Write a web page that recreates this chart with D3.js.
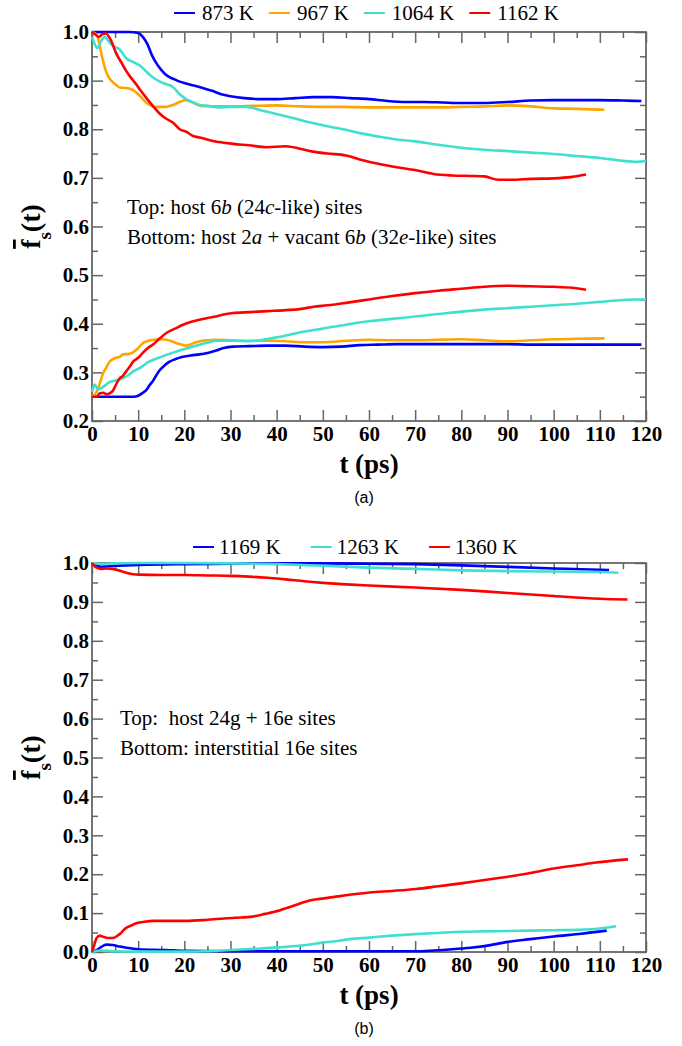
<!DOCTYPE html>
<html>
<head>
<meta charset="utf-8">
<script src="https://cdn.jsdelivr.net/npm/d3@7"></script>
<style>
  body { margin: 0; background: #fff; }
  text { white-space: pre; }
</style>
</head>
<body>
<div id="chart"></div>
<script>
// ---- panel (a) data: [t (ps), f_s(t)] ----
const a873Top = [[0,1.0],[2,1.0],[5,1.0],[8,1.0],[10,0.998],[11,0.99],[12,0.975],[13,0.952],[14,0.935],[15,0.922],[16,0.912],[17,0.906],[18,0.902],[19,0.898],[20,0.895],[22,0.89],[24,0.885],[26,0.879],[28,0.872],[30,0.868],[33,0.864],[36,0.862],[40,0.862],[44,0.864],[48,0.866],[52,0.866],[56,0.864],[60,0.862],[64,0.858],[68,0.856],[72,0.856],[76,0.855],[80,0.854],[85,0.854],[90,0.856],[95,0.859],[100,0.86],[105,0.86],[110,0.86],[115,0.859],[119,0.858]];
const a967Top = [[0,1.0],[1,0.995],[1.7,0.97],[2.4,0.94],[3.2,0.915],[4,0.902],[5,0.893],[6,0.886],[7.4,0.885],[8.8,0.881],[10,0.872],[11,0.862],[12,0.853],[13,0.848],[14,0.846],[16,0.846],[17.5,0.85],[19,0.856],[20.4,0.86],[22,0.854],[23.5,0.848],[26,0.847],[30,0.847],[35,0.848],[40,0.849],[45,0.847],[50,0.846],[55,0.846],[60,0.845],[65,0.845],[70,0.845],[75,0.845],[80,0.846],[85,0.847],[90,0.849],[95,0.847],[100,0.843],[105,0.842],[111,0.84]];
const a1064Top = [[0,0.99],[0.6,0.975],[1.2,0.967],[2,0.982],[2.8,0.99],[3.5,0.982],[4.5,0.972],[6,0.964],[7.4,0.946],[9,0.938],[10.5,0.93],[11.8,0.918],[13,0.908],[14.7,0.898],[16,0.893],[17.5,0.887],[19,0.872],[20.4,0.862],[22,0.855],[23.3,0.85],[25,0.848],[27.6,0.845],[30,0.846],[33.4,0.846],[37,0.838],[40.6,0.83],[44,0.822],[47.8,0.813],[51,0.806],[55,0.799],[58,0.792],[62,0.785],[66,0.779],[70,0.775],[75,0.768],[80,0.762],[85,0.758],[90,0.755],[95,0.752],[100,0.749],[105,0.745],[110,0.741],[115,0.735],[118,0.733],[120,0.735]];
const a1162Top = [[0,1.0],[0.7,0.995],[1.5,0.99],[2.2,0.995],[3,0.997],[4,0.985],[5.3,0.955],[6.5,0.935],[7.4,0.92],[8.2,0.909],[9.6,0.892],[10.5,0.88],[11.8,0.864],[13,0.85],[14.7,0.832],[16,0.822],[17.5,0.814],[19,0.8],[20.4,0.795],[21.9,0.786],[23.3,0.783],[26.2,0.776],[30.6,0.77],[34,0.767],[37.8,0.763],[42,0.765],[45,0.76],[47.8,0.754],[51,0.75],[55,0.746],[58,0.738],[62,0.729],[66,0.722],[70,0.716],[74,0.708],[78,0.705],[82,0.704],[85,0.703],[88,0.696],[91,0.696],[95,0.698],[100,0.699],[104,0.702],[107,0.707]];

const a873Bot = [[0,0.25],[3,0.25],[6,0.25],[9,0.25],[10,0.252],[11,0.258],[11.8,0.264],[12.5,0.274],[13.3,0.284],[14,0.295],[14.7,0.305],[15.7,0.314],[16.8,0.322],[18,0.327],[19.7,0.332],[21.5,0.335],[23.3,0.337],[25,0.34],[26.9,0.345],[28.5,0.35],[30.5,0.353],[34,0.354],[38,0.355],[42,0.355],[46,0.353],[50,0.352],[54,0.353],[58,0.356],[62,0.357],[66,0.358],[70,0.358],[75,0.358],[80,0.358],[85,0.358],[90,0.358],[95,0.357],[100,0.357],[110,0.357],[119,0.357]];
const a967Bot = [[0,0.25],[1,0.26],[1.7,0.278],[2.4,0.298],[3.1,0.31],[3.8,0.322],[4.9,0.329],[6,0.332],[6.7,0.337],[8,0.338],[8.9,0.341],[10,0.35],[11,0.36],[12,0.364],[13.3,0.367],[15,0.368],[16.1,0.367],[17.3,0.364],[18.3,0.36],[19.5,0.357],[20.4,0.355],[22,0.36],[23.3,0.364],[25,0.366],[26.9,0.367],[30,0.366],[34,0.365],[38,0.365],[42,0.364],[46,0.362],[50,0.362],[55,0.365],[60,0.367],[65,0.366],[70,0.366],[75,0.367],[80,0.368],[85,0.366],[90,0.364],[95,0.366],[100,0.368],[105,0.369],[111,0.37]];
const a1064Bot = [[0,0.26],[0.6,0.275],[1.3,0.265],[2.4,0.27],[3.8,0.28],[5,0.283],[6.7,0.288],[8,0.295],[8.9,0.302],[10,0.307],[11,0.313],[12,0.32],[13.3,0.326],[14.5,0.33],[16.1,0.336],[18,0.342],[19.7,0.347],[21.5,0.352],[23.3,0.357],[25,0.361],[26.9,0.365],[30.5,0.365],[34.2,0.364],[37,0.367],[40,0.372],[43,0.378],[46,0.384],[50,0.39],[55,0.398],[60,0.405],[65,0.41],[70,0.415],[75,0.42],[80,0.425],[85,0.429],[90,0.432],[95,0.435],[100,0.438],[105,0.441],[110,0.445],[115,0.449],[118,0.45],[120,0.45]];
const a1162Bot = [[0,0.25],[1,0.25],[1.7,0.257],[2.5,0.258],[3.1,0.255],[4,0.258],[4.5,0.262],[5.2,0.275],[6,0.288],[6.7,0.293],[7.4,0.302],[8.2,0.312],[8.9,0.322],[10,0.33],[11,0.34],[12,0.349],[13.3,0.358],[14.7,0.37],[16.1,0.381],[18,0.39],[19.7,0.398],[21.5,0.404],[23.3,0.408],[25,0.412],[26.9,0.415],[28.5,0.419],[30.5,0.422],[34.2,0.424],[38,0.426],[42,0.428],[45,0.43],[48,0.435],[51,0.438],[55,0.443],[60,0.45],[65,0.457],[70,0.463],[75,0.468],[80,0.472],[85,0.476],[90,0.478],[95,0.477],[100,0.476],[104,0.474],[107,0.47]];

// ---- panel (b) data ----
const b1169Top = [[0,1.0],[1,0.993],[2,0.99],[3,0.991],[5,0.993],[10,0.995],[20,0.997],[30,0.998],[40,0.999],[50,0.999],[60,0.998],[70,0.997],[80,0.994],[90,0.99],[100,0.986],[106,0.984],[112,0.982]];
const b1263Top = [[0,1.0],[2,0.998],[5,0.999],[10,1.0],[20,1.0],[30,0.999],[40,0.997],[50,0.993],[60,0.988],[70,0.985],[80,0.981],[90,0.979],[100,0.978],[110,0.977],[114,0.975]];
const b1360Top = [[0,1.0],[0.5,0.993],[1,0.988],[2,0.985],[3.1,0.986],[4.5,0.985],[6,0.98],[7.4,0.975],[9,0.971],[10.3,0.97],[15,0.969],[20,0.969],[25,0.968],[30,0.967],[34,0.965],[38,0.962],[42,0.958],[46,0.953],[50,0.949],[55,0.945],[60,0.942],[70,0.937],[80,0.931],[90,0.923],[100,0.915],[110,0.908],[116,0.906]];
const b1169Bot = [[0,0],[1,0.005],[2,0.013],[3.1,0.019],[4.5,0.018],[6,0.014],[7.4,0.011],[10,0.007],[16,0.005],[20,0.003],[30,0.002],[40,0.002],[50,0.002],[60,0.002],[70,0.002],[74,0.004],[78,0.007],[82,0.011],[86,0.017],[90,0.026],[95,0.033],[100,0.04],[106,0.047],[111.5,0.055]];
const b1263Bot = [[0,0],[1.7,0.004],[4.5,0.002],[10,0.001],[20,0.001],[25,0.002],[30,0.005],[35,0.008],[40.6,0.012],[46.4,0.018],[50,0.024],[52.2,0.027],[55.8,0.033],[60,0.037],[65,0.042],[70,0.046],[75,0.049],[80,0.052],[85,0.053],[90,0.054],[95,0.055],[100,0.056],[105,0.057],[109,0.059],[113.5,0.066]];
const b1360Bot = [[0,0],[0.3,0.01],[1,0.036],[1.7,0.042],[2.4,0.039],[3.5,0.036],[4.5,0.036],[6,0.046],[7.4,0.062],[8.5,0.068],[9.6,0.074],[11,0.077],[13.2,0.08],[17,0.08],[20.4,0.08],[24,0.082],[26.9,0.085],[31,0.088],[34.8,0.091],[37.5,0.098],[40.6,0.107],[43.5,0.118],[46.4,0.13],[49,0.136],[52.2,0.141],[55.8,0.147],[60.1,0.153],[65,0.157],[70.2,0.162],[75,0.169],[80.3,0.177],[85,0.185],[90.4,0.194],[95,0.203],[100.6,0.216],[105,0.223],[109.2,0.23],[116.1,0.238]];

const tempsA = ["873 K", "967 K", "1064 K", "1162 K"];
const colorsA = ["#0000ff", "#ffa500", "#40e0d0", "#ff0000"];
const tempsB = ["1169 K", "1263 K", "1360 K"];
const colorsB = ["#0000ff", "#40e0d0", "#ff0000"];

const xTicks = d3.range(0, 121, 10);
const xMinor = d3.range(5, 120, 10);
const yTicksA = d3.range(2, 11).map(d => d / 10);
const yMinorA = d3.range(2, 10).map(d => d / 10 + 0.05);
const yTicksB = d3.range(0, 11).map(d => d / 10);
const yMinorB = d3.range(0, 10).map(d => d / 10 + 0.05);

// annotation text pieces: [text, italic]
const noteA1 = [["Top: host 6", false], ["b", true], [" (24", false], ["c", true], ["-like) sites", false]];
const noteA2 = [["Bottom: host 2", false], ["a", true], [" + vacant 6", false], ["b", true], [" (32", false], ["e", true], ["-like) sites", false]];
const noteB1 = [["Top:  host 24g + 16e sites", false]];
const noteB2 = [["Bottom: interstitial 16e sites", false]];

const W = 682, H = 1046;
const serif = "'Liberation Serif', 'Times New Roman', serif";
const axisColor = "#666";

const svg = d3.select("#chart").append("svg")
  .attr("width", W).attr("height", H);

const x = d3.scaleLinear().domain([0, 120]).range([92, 646]);

function panel(p) {
  const y = d3.scaleLinear().domain(p.yDomain).range([p.bottom, p.top]);
  const g = svg.append("g");

  function styleAxis(sel) {
    sel.select(".domain").remove();
    sel.selectAll("line").attr("stroke", axisColor).attr("stroke-width", 1.5);
    sel.selectAll("text")
      .attr("fill", "#000")
      .attr("font-family", serif)
      .attr("font-size", 21)
      .attr("font-weight", "bold");
  }

  // major + minor ticks on all four sides, pointing inward
  g.append("g").attr("transform", `translate(0,${p.bottom})`)
    .call(d3.axisBottom(x).tickValues(xTicks).tickSizeInner(-11).tickSizeOuter(0).tickPadding(5))
    .call(styleAxis);
  g.append("g").attr("transform", `translate(0,${p.bottom})`)
    .call(d3.axisBottom(x).tickValues(xMinor).tickSize(-6).tickFormat(""))
    .call(styleAxis);
  g.append("g").attr("transform", `translate(0,${p.top})`)
    .call(d3.axisTop(x).tickValues(xTicks).tickSize(-11).tickFormat(""))
    .call(styleAxis);
  g.append("g").attr("transform", `translate(0,${p.top})`)
    .call(d3.axisTop(x).tickValues(xMinor).tickSize(-6).tickFormat(""))
    .call(styleAxis);

  g.append("g").attr("transform", `translate(${x(0)},0)`)
    .call(d3.axisLeft(y).tickValues(p.yTicks).tickFormat(d3.format(".1f")).tickSizeInner(-11).tickSizeOuter(0).tickPadding(3))
    .call(styleAxis);
  g.append("g").attr("transform", `translate(${x(0)},0)`)
    .call(d3.axisLeft(y).tickValues(p.yMinor).tickSize(-6).tickFormat(""))
    .call(styleAxis);
  g.append("g").attr("transform", `translate(${x(120)},0)`)
    .call(d3.axisRight(y).tickValues(p.yTicks).tickSize(-11).tickFormat(""))
    .call(styleAxis);
  g.append("g").attr("transform", `translate(${x(120)},0)`)
    .call(d3.axisRight(y).tickValues(p.yMinor).tickSize(-6).tickFormat(""))
    .call(styleAxis);

  g.append("rect")
    .attr("x", x(0)).attr("y", p.top)
    .attr("width", x(120) - x(0)).attr("height", p.bottom - p.top)
    .attr("fill", "none").attr("stroke", axisColor).attr("stroke-width", 1.8);

  const line = d3.line()
    .x(d => x(d[0]))
    .y(d => y(d[1]))
    .curve(d3.curveMonotoneX);

  g.selectAll(".series")
    .data(p.series)
    .enter()
    .append("path")
    .attr("class", "series")
    .attr("d", d => line(d.values))
    .attr("fill", "none")
    .attr("stroke", d => d.color)
    .attr("stroke-width", 2.6)
    .attr("stroke-linejoin", "round");

  // legend above the frame
  let lx = p.legendX;
  p.legend.forEach((name, i) => {
    g.append("line")
      .attr("x1", lx).attr("x2", lx + 21)
      .attr("y1", p.legendY - 7).attr("y2", p.legendY - 7)
      .attr("stroke", p.colors[i]).attr("stroke-width", 2);
    const t = g.append("text")
      .attr("x", lx + 21 + p.legendGap)
      .attr("y", p.legendY)
      .attr("font-family", serif)
      .attr("font-size", 21)
      .text(name);
    lx += 21 + p.legendGap + t.node().getComputedTextLength() + p.legendSpace;
  });

  // notes inside the plot
  [p.note1, p.note2].forEach((parts, i) => {
    const t = g.append("text")
      .attr("x", p.noteX)
      .attr("y", p.noteY + i * 30)
      .attr("font-family", serif)
      .attr("font-size", 21);
    parts.forEach(([s, it]) => {
      t.append("tspan").attr("font-style", it ? "italic" : "normal").text(s);
    });
  });

  // y label: f-bar sub s (t)
  const yl = g.append("text")
    .attr("transform", `translate(40,${(p.top + p.bottom) / 2}) rotate(-90)`)
    .attr("text-anchor", "middle")
    .attr("font-family", serif)
    .attr("font-size", 28)
    .attr("font-weight", "bold");
  yl.append("tspan").style("text-decoration", "overline").text("f");
  yl.append("tspan").attr("baseline-shift", "sub").attr("font-size", 19).text("s");
  yl.append("tspan").text("(t)");

  g.append("text")
    .attr("x", (x(0) + x(120)) / 2)
    .attr("y", p.bottom + 52)
    .attr("text-anchor", "middle")
    .attr("font-family", serif)
    .attr("font-size", 27)
    .attr("font-weight", "bold")
    .text("t (ps)");

  g.append("text")
    .attr("x", 364)
    .attr("y", p.bottom + 82)
    .attr("text-anchor", "middle")
    .attr("font-family", "'Liberation Sans', Arial, sans-serif")
    .attr("font-size", 16)
    .text(p.caption);
}

panel({
  top: 32, bottom: 421,
  yDomain: [0.2, 1.0], yTicks: yTicksA, yMinor: yMinorA,
  series: [
    {values: a873Top, color: colorsA[0]}, {values: a967Top, color: colorsA[1]},
    {values: a1064Top, color: colorsA[2]}, {values: a1162Top, color: colorsA[3]},
    {values: a873Bot, color: colorsA[0]}, {values: a967Bot, color: colorsA[1]},
    {values: a1064Bot, color: colorsA[2]}, {values: a1162Bot, color: colorsA[3]}
  ],
  legend: tempsA, colors: colorsA,
  legendX: 174, legendY: 20, legendGap: 7, legendSpace: 15,
  note1: noteA1, note2: noteA2, noteX: 127, noteY: 214,
  caption: "(a)"
});

panel({
  top: 563, bottom: 952,
  yDomain: [0, 1.0], yTicks: yTicksB, yMinor: yMinorB,
  series: [
    {values: b1169Top, color: colorsB[0]}, {values: b1263Top, color: colorsB[1]},
    {values: b1360Top, color: colorsB[2]},
    {values: b1169Bot, color: colorsB[0]}, {values: b1263Bot, color: colorsB[1]},
    {values: b1360Bot, color: colorsB[2]}
  ],
  legend: tempsB, colors: colorsB,
  legendX: 193, legendY: 554, legendGap: 5, legendSpace: 30,
  note1: noteB1, note2: noteB2, noteX: 120, noteY: 725,
  caption: "(b)"
});
</script>
</body>
</html>
